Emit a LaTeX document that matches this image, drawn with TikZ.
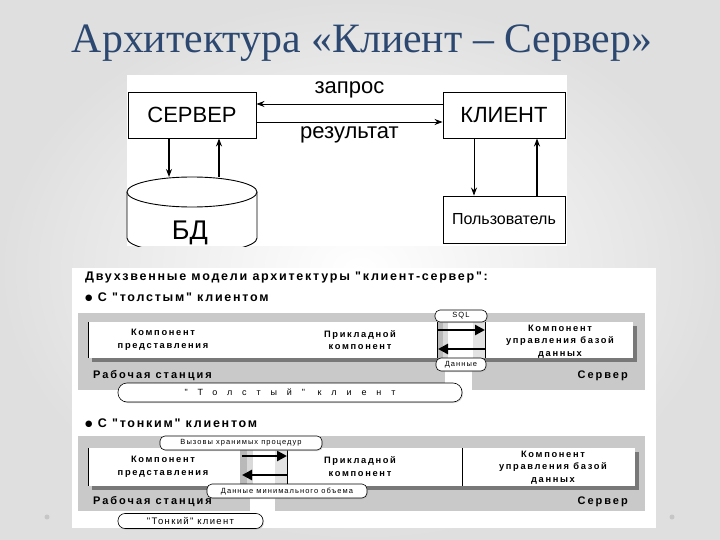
\documentclass[tikz,border=0pt]{standalone}
\usepackage{fontspec}
\setmainfont{Liberation Serif}
\newfontfamily\arial[Ligatures=TeXOff]{Liberation Sans}
\newfontfamily\lsb[LetterSpace=18,Ligatures=TeXOff]{Liberation Sans}
\newfontfamily\lsh[LetterSpace=14,Ligatures=TeXOff]{Liberation Sans}
\newfontfamily\lsn[LetterSpace=14,Ligatures=TeXOff]{Liberation Sans}
\newfontfamily\lswide[LetterSpace=110,Ligatures=TeXOff]{Liberation Sans}
\newfontfamily\dejavu{DejaVu Sans}
\usetikzlibrary{arrows.meta,calc,shadows}
\definecolor{titleblue}{RGB}{44,72,112}
\definecolor{panelgray}{RGB}{201,201,201}
\definecolor{shadowgray}{RGB}{120,120,120}
\begin{document}
\begin{tikzpicture}[x=1pt,y=-1pt,
  box/.style={draw, line width=0.9pt, fill=white, inner sep=0pt, font=\arial\fontsize{22}{24}\selectfont},
  lbl/.style={font=\arial\fontsize{22}{24}\selectfont, inner sep=0pt},
  arr/.style={line width=0.8pt, -{Stealth[length=8pt,width=6pt]}},
  bigarr/.style={line width=2.8pt, -{Triangle[length=10pt,width=10pt]}},
  hdr/.style={anchor=west, inner sep=0pt, font=\lsh\bfseries\fontsize{12.5}{13}\selectfont},
  wslbl/.style={anchor=west, inner sep=0pt, font=\lsb\bfseries\fontsize{11}{12}\selectfont},
  ctext/.style={align=center, inner sep=0pt, font=\lsb\bfseries\fontsize{9.3}{12.5}\selectfont},
  pill/.style={draw, fill=white, line width=0.6pt, rounded corners=5pt, inner sep=0pt,
     drop shadow={shadow xshift=1pt, shadow yshift=-1pt, fill=gray!60},
     font=\lsn\fontsize{7.5}{8}\selectfont}
]
\useasboundingbox (0,0) rectangle (720,540);
\shade[inner color=white, outer color=gray!25] (0,0) rectangle (720,540);

% title
\node[text=titleblue, inner sep=0pt] (title) at (362,43)
  {\resizebox{580pt}{!}{Архитектура «Клиент – Сервер»}};

% ---------- top picture ----------
\fill[white] (127,75) rectangle (567,246);
\node[box, minimum width=128, minimum height=46] (srv) at (192,115) {СЕРВЕР};
\node[box, minimum width=122, minimum height=46] (cli) at (504,115) {КЛИЕНТ};
\node[box, minimum width=122, minimum height=47, font=\arial\fontsize{16}{18}\selectfont] (usr) at (504,219.5) {Пользователь};

\begin{scope}
  \clip (120,170) rectangle (265,246);
  \fill[white] (127,192) rectangle (257,246);
  \draw[line width=0.9pt] (127,192) -- (127,238) arc[start angle=180, end angle=0, x radius=65, y radius=15] -- (257,192);
  \draw[line width=0.9pt, fill=white] (192,192) ellipse [x radius=65, y radius=15];
\end{scope}
\node[lbl, font=\arial\fontsize{27}{28}\selectfont] (bd) at (190,233) {БД};
\coordinate (bdA) at (169,177);
\coordinate (bdB) at (219,177);

\draw[arr] ([yshift=11pt]cli.west) -- node[lbl, above=6pt] (zap) {запрос} ([yshift=11pt]srv.east);
\draw[arr] ([yshift=-7pt]srv.east) -- node[lbl, below=4pt] (res) {результат} ([yshift=-7pt]cli.west);
\draw[arr, line width=1.1pt] ([xshift=-23pt]srv.south) -- (bdA);
\draw[arr, line width=1.1pt] (bdB) -- ([xshift=27pt]srv.south);
\draw[arr] ([xshift=-30pt]cli.south) -- ([xshift=-30pt]usr.north);
\draw[arr, line width=1.6pt] ([xshift=33pt]usr.north) -- ([xshift=33pt]cli.south);

% ---------- bottom picture ----------
\fill[white] (72,268) rectangle (656,528);
\node[hdr] (h1) at (85,277) {Двухзвенные модели архитектуры "клиент-сервер":};
\node[hdr] (h2) at (85,297) {\raisebox{0.5pt}{\dejavu\fontsize{8.5}{9}\selectfont ●} С "толстым" клиентом};

% thick client
\fill[panelgray] (78,313) rectangle (445,390);
\fill[panelgray] (472,313) rectangle (645,390);
\fill[shadowgray] (92,326) rectangle (637,362);
\fill[white] (88,322) rectangle (633,358);
\fill[gray!55] (437,322) rectangle (443,358);
\fill[gray!30] (443,322) rectangle (448,358);
\fill[gray!22] (473,322) rectangle (485,358);
\draw[line width=0.8pt] (88,322) -- (88,358);
\draw[line width=0.8pt] (437,322) -- (437,358);
\draw[line width=0.8pt] (485,322) -- (485,358);
\node[ctext] (pres1) at (163,340) {Компонент\\представления};
\node[ctext] (app1) at (360,340) {Прикладной\\компонент};
\node[ctext] (db1) at (560,341.5) {Компонент\\управления базой\\данных};
\coordinate (t1a) at (438,330);
\coordinate (t1b) at (485,330);
\coordinate (t1c) at (485,349);
\coordinate (t1d) at (438,349);
\draw[bigarr] (t1a) -- (t1b);
\draw[bigarr] (t1c) -- (t1d);
\node[wslbl] (ws1) at (93,376) {Рабочая станция};
\node[wslbl, anchor=east] (sv1) at (628,376) {Сервер};
\node[pill, minimum width=52, minimum height=12] (sql) at (461,316) {SQL};
\node[pill, minimum width=50, minimum height=13] (dat) at (461,364.5) {Данные};
\node[pill, minimum width=344, minimum height=19, rounded corners=9pt, font=\lswide\fontsize{9}{10}\selectfont] (fat) at (290,392.5) {"Толстый" клиент};

% thin client
\node[hdr] (h3) at (85,423) {\raisebox{0.5pt}{\dejavu\fontsize{8.5}{9}\selectfont ●} С "тонким" клиентом};
\fill[panelgray] (78,436) rectangle (250,511);
\fill[panelgray] (275,436) rectangle (645,511);
\fill[shadowgray] (92,452) rectangle (639,490);
\fill[white] (88,448) rectangle (635,486);
\fill[gray!55] (240,448) rectangle (247,486);
\fill[gray!30] (247,448) rectangle (253,486);
\fill[gray!22] (275,448) rectangle (287,486);
\draw[line width=0.8pt] (88,448) -- (88,486);
\draw[line width=0.8pt] (287,448) -- (287,486);
\draw[line width=0.8pt] (462,448) -- (462,486);
\node[ctext] (pres2) at (163,467) {Компонент\\представления};
\node[ctext] (app2) at (360,466.5) {Прикладной\\компонент};
\node[ctext] (db2) at (553,467.5) {Компонент\\управления базой\\данных};
\coordinate (t2a) at (242,456);
\coordinate (t2b) at (287,456);
\coordinate (t2c) at (287,475);
\coordinate (t2d) at (242,475);
\draw[bigarr] (t2a) -- (t2b);
\draw[bigarr] (t2c) -- (t2d);
\node[wslbl] (ws2) at (93,502) {Рабочая станция};
\node[wslbl, anchor=east] (sv2) at (628,502) {Сервер};
\node[pill, minimum width=162, minimum height=14] (calls) at (241,443) {Вызовы хранимых процедур};
\node[pill, minimum width=160, minimum height=14] (mind) at (287,491) {Данные минимального объема};
\node[pill, minimum width=145, minimum height=15, rounded corners=7pt, font=\lsn\fontsize{9.5}{10}\selectfont] (thin) at (190.5,521) {"Тонкий" клиент};

% slide dots
\fill[gray!45] (47,517) circle (2.5);
\fill[gray!45] (672,517) circle (2.5);
\end{tikzpicture}
\end{document}
